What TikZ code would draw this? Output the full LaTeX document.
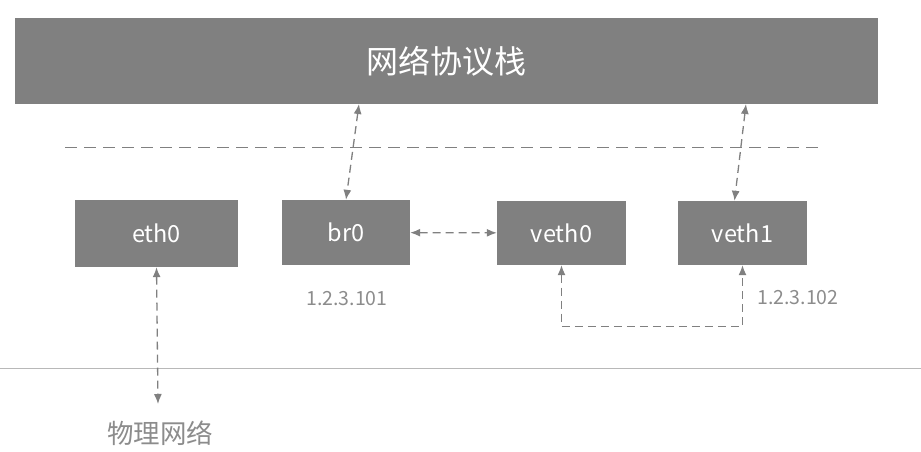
\documentclass[tikz,border=0pt]{standalone}
\usepackage{fontspec}
\setmainfont{Noto Sans CJK SC}
\usetikzlibrary{arrows.meta}
\definecolor{boxgray}{gray}{0.5}
\definecolor{linegray}{gray}{0.5}
\definecolor{textgray}{gray}{0.55}
\definecolor{rulegray}{gray}{0.72}

\begin{document}
\begin{tikzpicture}[x=1pt,y=-1pt,
		box/.style={fill=boxgray, text=white, inner sep=0pt, font=\fontsize{23.5}{27}\selectfont},
		link/.style={linegray, line width=1.3pt, dash pattern=on 8pt off 5pt, {Latex[length=10pt,width=8pt]}-{Latex[length=10pt,width=8pt]}},
		addr/.style={text=textgray, inner sep=0pt, font=\fontsize{19.5}{23}\selectfont}]
	\useasboundingbox (0,0) rectangle (921,452);
	
	% Protocol stack
	\node[box, minimum width=863pt, minimum height=86pt, font=\fontsize{32}{36}\selectfont] (stack) at (446.5,61) {网络协议栈};
	
	% Separators
	\draw[linegray, line width=1pt, dash pattern=on 12pt off 7pt] (65,147) -- (818,147);
	\draw[rulegray, line width=1pt] (0,368) -- (921,368);
	
	% Devices
	\node[box, minimum width=163pt, minimum height=67pt] (eth0) at (156.5,233.5) {eth0};
	\node[box, minimum width=128pt, minimum height=65pt] (br0) at (346,232.5) {br0};
	\node[box, minimum width=129pt, minimum height=64pt] (veth0) at (561.5,233) {veth0};
	\node[box, minimum width=129pt, minimum height=64pt] (veth1) at (742.5,233) {veth1};
	
	% Labels
	\node[addr] (ipbr) at (347,299) {1.2.3.101};
	\node[addr] (ipveth) at (798,298) {1.2.3.102};
	\node[text=textgray, inner sep=0pt, font=\fontsize{26.5}{30}\selectfont] (net) at (160,433) {物理网络};
	
	% Links
	\coordinate (stackA) at (359,104);
	\coordinate (stackB) at (746,104);
	\coordinate (netTop) at (158,404);
	\draw[link] (stackA) -- (br0.north);
	\draw[link] (stackB) -- ([xshift=-8pt]veth1.north);
	\draw[link] (br0) -- (veth0);
	\draw[link] (veth0.south) -- ++(0,61) -| (veth1.south);
	\draw[link] (eth0.south) -- (netTop);
\end{tikzpicture}
\end{document}
